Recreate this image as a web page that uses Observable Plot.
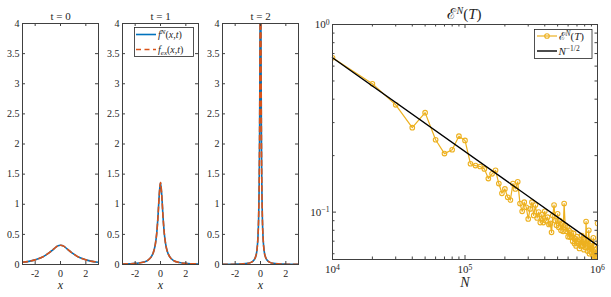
<!DOCTYPE html>
<html>
<head>
<meta charset="utf-8">
<script src="https://cdn.jsdelivr.net/npm/d3@7"></script>
<script src="https://cdn.jsdelivr.net/npm/@observablehq/plot@0.6"></script>
<style>
  body { margin: 0; background: #fff; }
  #fig { position: relative; width: 611px; height: 297px; }
  #fig > svg { position: absolute; top: 0; overflow: visible; }
  #fig svg, #fig text { font-family: 'Liberation Serif', 'DejaVu Serif', serif !important; }
</style>
</head>
<body>
<div id="fig"></div>
<script>
// ---- density profiles f(x,t) at t = 0, 1, 2 ----
const xs0 = [-3, -2.5, -2, -1.5, -1, -0.75, -0.5, -0.25, 0, 0.25, 0.5, 0.75, 1, 1.5, 2, 2.5, 3];
const fN0  = [0.037, 0.052, 0.077, 0.115, 0.18, 0.22, 0.262, 0.305, 0.32, 0.305, 0.262, 0.22, 0.18, 0.115, 0.077, 0.052, 0.037];
const fEx0 = [0.037, 0.052, 0.077, 0.115, 0.18, 0.22, 0.262, 0.305, 0.32, 0.305, 0.262, 0.22, 0.18, 0.115, 0.077, 0.052, 0.037];

const xs1 = [-3, -2.5, -2, -1.5, -1, -0.75, -0.5, -0.4, -0.3, -0.2, -0.1, 0, 0.1, 0.2, 0.3, 0.4, 0.5, 0.75, 1, 1.5, 2, 2.5, 3];
const fN1  = [0.008, 0.012, 0.018, 0.032, 0.07, 0.121, 0.244, 0.347, 0.515, 0.79, 1.15, 1.36, 1.15, 0.79, 0.515, 0.347, 0.244, 0.121, 0.07, 0.032, 0.018, 0.012, 0.008];
const fEx1 = [0.008, 0.012, 0.018, 0.032, 0.07, 0.121, 0.244, 0.347, 0.515, 0.79, 1.15, 1.36, 1.15, 0.79, 0.515, 0.347, 0.244, 0.121, 0.07, 0.032, 0.018, 0.012, 0.008];

const xs2 = [-3, -2, -1.5, -1, -0.75, -0.5, -0.4, -0.3, -0.2, -0.15, -0.1, -0.075, -0.05, -0.025, 0, 0.025, 0.05, 0.075, 0.1, 0.15, 0.2, 0.3, 0.4, 0.5, 0.75, 1, 1.5, 2, 3];
const fN2  = [0.002, 0.005, 0.009, 0.02, 0.035, 0.079, 0.12, 0.21, 0.46, 0.76, 1.43, 2.08, 3.1, 4.4, 5.0, 4.4, 3.1, 2.08, 1.43, 0.76, 0.46, 0.21, 0.12, 0.079, 0.035, 0.02, 0.009, 0.005, 0.002];
const fEx2 = [0.002, 0.005, 0.009, 0.02, 0.035, 0.079, 0.12, 0.21, 0.46, 0.76, 1.43, 2.08, 3.1, 4.4, 5.0, 4.4, 3.1, 2.08, 1.43, 0.76, 0.46, 0.21, 0.12, 0.079, 0.035, 0.02, 0.009, 0.005, 0.002];

const panelTitles = ["t = 0", "t = 1", "t = 2"];
const profileX = [xs0, xs1, xs2];
const profileN = [fN0, fN1, fN2];
const profileEx = [fEx0, fEx1, fEx2];

const smallXTicks = [-2, 0, 2];
const smallYTicks = [0, 0.5, 1, 1.5, 2, 2.5, 3, 3.5, 4];

// ---- error E^N(T) against sample size N (in units of 10^4) ----
const nUnits = [1,2,3,4,5,6,7,8,9,10,11,12,13,14,15,16,17,18,19,20,21,22,23,24,25,26,27,28,29,30,
  31,32,33,34,35,36,37,38,39,40,41,42,43,44,45,46,47,48,49,50,51,52,53,54,55,56,57,58,59,60,
  61,62,63,64,65,66,67,68,69,70,71,72,73,74,75,76,77,78,79,80,81,82,83,84,85,86,87,88,89,90,
  91,92,93,94,95,96,97,98,99,100];
const errN = [
  0.665, 0.483, 0.373, 0.282, 0.339, 0.243, 0.205, 0.215, 0.254, 0.241,
  0.181, 0.177, 0.175, 0.170, 0.151, 0.160, 0.167, 0.142, 0.126, 0.133,
  0.120, 0.116, 0.142, 0.133, 0.145, 0.111, 0.101, 0.113, 0.106, 0.092,
  0.104, 0.113, 0.096, 0.109, 0.093, 0.100, 0.088, 0.097, 0.088, 0.101,
  0.090, 0.094, 0.086, 0.087, 0.078, 0.096, 0.109, 0.090, 0.085, 0.098,
  0.083, 0.090, 0.080, 0.087, 0.079, 0.111, 0.085, 0.079, 0.083, 0.074,
  0.080, 0.0736, 0.078, 0.0736, 0.070, 0.077, 0.068, 0.072, 0.066, 0.074,
  0.070, 0.068, 0.064, 0.071, 0.066, 0.075, 0.066, 0.072, 0.063, 0.070,
  0.065, 0.089, 0.067, 0.062, 0.071, 0.080, 0.060, 0.066, 0.0638, 0.061,
  0.068, 0.059, 0.073, 0.057, 0.0555, 0.063, 0.060, 0.058, 0.064, 0.087
];
// reference slope N^{-1/2}
const refN = [1e4, 1e6];
const refE = [0.665, 0.0665];

const xMajor = [1e4, 1e5, 1e6];
const xMinor = [2e4, 3e4, 4e4, 5e4, 6e4, 7e4, 8e4, 9e4, 2e5, 3e5, 4e5, 5e5, 6e5, 7e5, 8e5, 9e5];
const yMajor = [0.1, 1];
const yMinor = [0.06, 0.07, 0.08, 0.09, 0.2, 0.3, 0.4, 0.5, 0.6, 0.7, 0.8, 0.9];

const BLUE = "#0072BD", ORANGE = "#D95319", GOLD = "#EDB120", AXIS = "#404040";
const FONT = "Liberation Serif, DejaVu Serif, serif";

const fig = document.getElementById("fig");

// ---- three profile panels ----
for (let i = 0; i < 3; i++) {
  const W = 100, H = 297, mL = 22, mR = 2, mT = 23, mB = 33;
  const fw = W - mL - mR, fh = H - mT - mB;
  const dataN = profileX[i].map((x, j) => ({x, y: profileN[i][j]}));
  const dataEx = profileX[i].map((x, j) => ({x, y: profileEx[i][j]}));
  const svg = Plot.plot({
    width: W, height: H,
    marginLeft: mL, marginRight: mR, marginTop: mT, marginBottom: mB,
    x: {domain: [-3, 3]},
    y: {domain: [0, 4]},
    style: {fontFamily: FONT, fontSize: "10px", background: "transparent", color: "#262626", overflow: "visible"},
    marks: [
      Plot.line(dataN, {x: "x", y: "y", stroke: BLUE, strokeWidth: 1.6, curve: "monotone-x", clip: true}),
      Plot.line(dataEx, {x: "x", y: "y", stroke: ORANGE, strokeWidth: 1.6, strokeDasharray: "5,3.5", curve: "monotone-x", clip: true}),
      Plot.frame({stroke: AXIS, strokeWidth: 1}),
      Plot.tickY(smallYTicks, {y: d => d, insetRight: fw - 3, stroke: AXIS}),
      Plot.tickY(smallYTicks, {y: d => d, insetLeft: fw - 3, stroke: AXIS}),
      Plot.tickX(smallXTicks, {x: d => d, insetTop: fh - 3, stroke: AXIS}),
      Plot.tickX(smallXTicks, {x: d => d, insetBottom: fh - 3, stroke: AXIS}),
      Plot.axisY({ticks: smallYTicks, tickSize: 0, tickPadding: 3, tickFormat: d => String(d), label: null}),
      Plot.axisX({ticks: smallXTicks, tickSize: 0, tickPadding: 5, tickFormat: d => String(d), label: null}),
      Plot.text(["x"], {frameAnchor: "bottom", dy: 24, fontStyle: "italic", fontSize: 12}),
      Plot.text([panelTitles[i]], {frameAnchor: "top", dy: -11, fontSize: 11})
    ]
  });
  svg.style.left = (i * 100) + "px";
  fig.appendChild(svg);
}

// ---- error convergence panel (log-log) ----
{
  const W = 311, H = 297, mL = 32, mR = 14, mT = 24, mB = 38;
  const fw = W - mL - mR, fh = H - mT - mB;
  const err = nUnits.map((k, j) => ({N: k * 1e4, E: errN[j]}));
  const ref = refN.map((n, j) => ({N: n, E: refE[j]}));
  const powLabel = d => {
    const e = Math.round(Math.log10(d));
    return "10^" + (e < 0 ? "\u2212" + (-e) : String(e));
  };
  const svg = Plot.plot({
    width: W, height: H,
    marginLeft: mL, marginRight: mR, marginTop: mT, marginBottom: mB,
    x: {type: "log", domain: [1e4, 1e6]},
    y: {type: "log", domain: [0.0559, 1]},
    style: {fontFamily: FONT, fontSize: "11px", background: "transparent", color: "#262626", overflow: "visible"},
    marks: [
      Plot.line(err, {x: "N", y: "E", stroke: GOLD, strokeWidth: 1.2, clip: true}),
      Plot.dot(err, {x: "N", y: "E", r: 2.3, stroke: GOLD, strokeWidth: 1.1, fill: "none", clip: true}),
      Plot.line(ref, {x: "N", y: "E", stroke: "#000", strokeWidth: 1.4}),
      Plot.frame({stroke: AXIS, strokeWidth: 1}),
      Plot.tickY(yMajor, {y: d => d, insetRight: fw - 4, stroke: AXIS}),
      Plot.tickY(yMajor, {y: d => d, insetLeft: fw - 4, stroke: AXIS}),
      Plot.tickY(yMinor, {y: d => d, insetRight: fw - 2.5, stroke: AXIS}),
      Plot.tickY(yMinor, {y: d => d, insetLeft: fw - 2.5, stroke: AXIS}),
      Plot.tickX(xMajor, {x: d => d, insetTop: fh - 4, stroke: AXIS}),
      Plot.tickX(xMajor, {x: d => d, insetBottom: fh - 4, stroke: AXIS}),
      Plot.tickX(xMinor, {x: d => d, insetTop: fh - 2.5, stroke: AXIS}),
      Plot.tickX(xMinor, {x: d => d, insetBottom: fh - 2.5, stroke: AXIS}),
      Plot.axisY({ticks: yMajor, tickSize: 0, tickPadding: 3, tickFormat: powLabel, label: null}),
      Plot.axisX({ticks: xMajor, tickSize: 0, tickPadding: 6, tickFormat: powLabel, label: null}),
      Plot.text(["N"], {frameAnchor: "bottom", dy: 27, fontStyle: "italic", fontSize: 14})
    ]
  });
  // render "10^e" tick labels with a raised exponent
  svg.querySelectorAll("text").forEach(t => {
    const m = t.textContent.match(/^10\^(.+)$/);
    if (!m) return;
    t.textContent = "10";
    const sup = document.createElementNS("http://www.w3.org/2000/svg", "tspan");
    sup.setAttribute("dy", "-0.45em");
    sup.setAttribute("font-size", "0.7em");
    sup.textContent = m[1];
    t.appendChild(sup);
  });
  svg.style.left = "300px";
  fig.appendChild(svg);
}

// ---- legends and the right-hand title ----
const overlay = d3.select(fig).append("svg")
  .attr("width", 611).attr("height", 297)
  .style("left", "0px").style("pointer-events", "none");

function mathText(g, x, y, size, parts) {
  const t = g.append("text").attr("x", x).attr("y", y).attr("font-size", size).attr("fill", "#262626");
  for (const p of parts) {
    const s = t.append("tspan").text(p.s);
    if (p.it) s.attr("font-style", "italic");
    if (p.dy) s.attr("dy", p.dy);
    if (p.fs) s.attr("font-size", p.fs);
  }
  return t;
}

// legend of the t = 1 panel
{
  const g = overlay.append("g");
  g.append("rect").attr("x", 134.5).attr("y", 27.5).attr("width", 59).attr("height", 29)
    .attr("fill", "#fff").attr("stroke", "#262626").attr("stroke-width", 0.8);
  g.append("line").attr("x1", 136).attr("x2", 156).attr("y1", 34.5).attr("y2", 34.5)
    .attr("stroke", BLUE).attr("stroke-width", 1.6);
  g.append("line").attr("x1", 136).attr("x2", 156).attr("y1", 49.5).attr("y2", 49.5)
    .attr("stroke", ORANGE).attr("stroke-width", 1.6).attr("stroke-dasharray", "5,3.5");
  mathText(g, 158, 38, 10, [
    {s: "f", it: true}, {s: "N", it: true, dy: -4, fs: 7}, {s: "(", dy: 4}, {s: "x", it: true}, {s: ","}, {s: "t", it: true}, {s: ")"}
  ]);
  mathText(g, 158, 52.5, 10, [
    {s: "f", it: true}, {s: "ex", it: true, dy: 2.5, fs: 7}, {s: "(", dy: -2.5}, {s: "x", it: true}, {s: ","}, {s: "t", it: true}, {s: ")"}
  ]);
}

// legend of the convergence panel
{
  const g = overlay.append("g");
  g.append("rect").attr("x", 534.5).attr("y", 29.5).attr("width", 57.5).attr("height", 29)
    .attr("fill", "#fff").attr("stroke", "#262626").attr("stroke-width", 0.8);
  g.append("line").attr("x1", 537).attr("x2", 557).attr("y1", 36).attr("y2", 36)
    .attr("stroke", GOLD).attr("stroke-width", 1.2);
  g.append("circle").attr("cx", 547).attr("cy", 36).attr("r", 2.3)
    .attr("fill", "none").attr("stroke", GOLD).attr("stroke-width", 1.1);
  g.append("line").attr("x1", 537).attr("x2", 557).attr("y1", 51).attr("y2", 51)
    .attr("stroke", "#000").attr("stroke-width", 1.4);
  mathText(g, 558.5, 40, 11, [
    {s: "\u2130"}, {s: "N", it: true, dy: -4.5, fs: 7.5}, {s: "(", dy: 4.5}, {s: "T", it: true}, {s: ")"}
  ]);
  mathText(g, 558.5, 55, 11, [
    {s: "N", it: true}, {s: "\u22121/2", dy: -4.5, fs: 7.5}
  ]);
}

// title of the convergence panel
mathText(overlay.append("g"), 0, 19, 15, [
  {s: "\u2130"}, {s: "N", it: true, dy: -5.5, fs: 10}, {s: "(", dy: 5.5}, {s: "T", it: true}, {s: ")"}
]).attr("x", 464.5).attr("text-anchor", "middle");
</script>
</body>
</html>
